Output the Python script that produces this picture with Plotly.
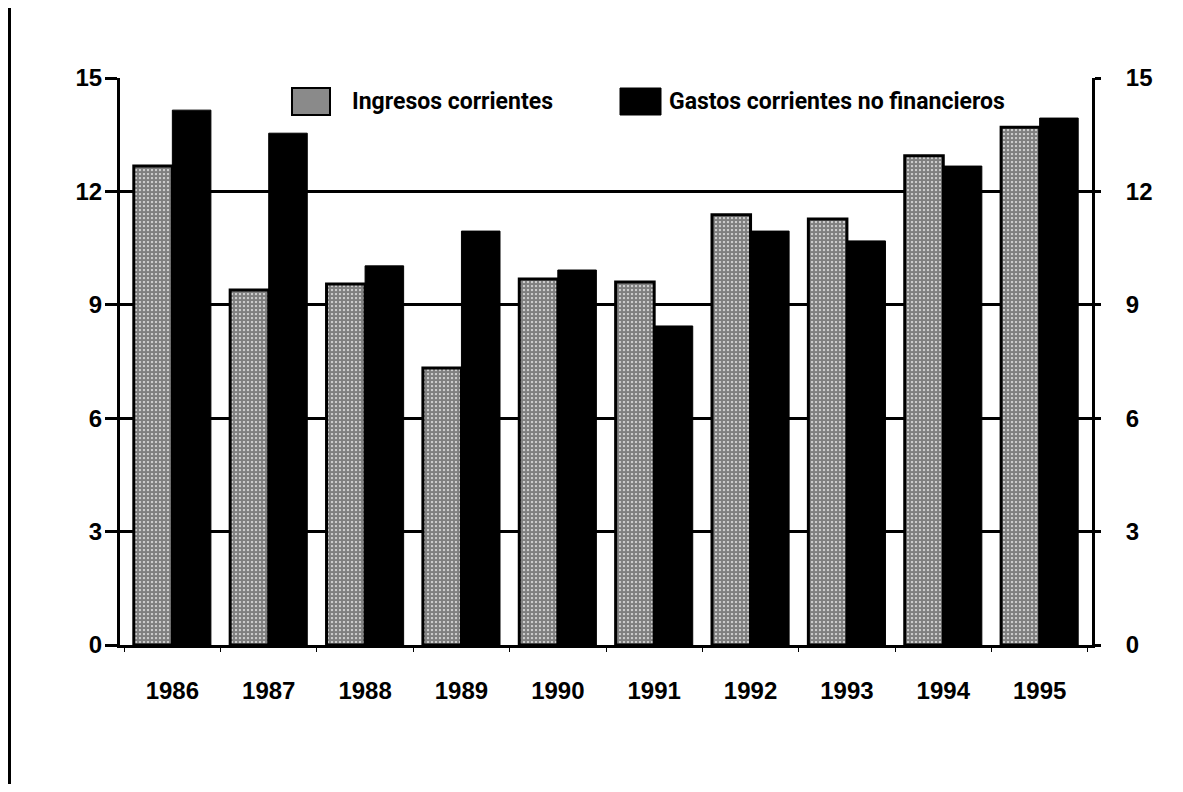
import plotly.graph_objects as go

years = ["1986", "1987", "1988", "1989", "1990", "1991", "1992", "1993", "1994", "1995"]
ingresos = [12.67, 9.39, 9.55, 7.33, 9.68, 9.6, 11.38, 11.27, 12.94, 13.7]
gastos = [14.15, 13.54, 10.03, 10.95, 9.92, 8.44, 10.95, 10.69, 12.67, 13.94]
y_ticks = [0, 3, 6, 9, 12, 15]
legend_labels = ["Ingresos corrientes", "Gastos corrientes no financieros"]

OFF = 8  # page body margin of the browser
W, H = 1183 - 2 * OFF, 792 - 2 * OFF
ML, MT = 120 - OFF, 78 - OFF
PW, PH = 972, 567
MR, MB = W - ML - PW, H - MT - PH

def px(x):
    return (x - OFF - ML) / PW

def py(y):
    return (MT + PH - (y - OFF)) / PH

tick_font = dict(family="Liberation Sans, Arial, sans-serif", size=24, color="black", weight="bold")
leg_font = dict(family="Liberation Sans Narrow, Arial Narrow, Roboto, sans-serif",
                size=23, color="black", weight="bold")

fig = go.Figure()
fig.add_trace(go.Bar(
    x=years, y=ingresos, name=legend_labels[0],
    marker=dict(color="white", line=dict(color="black", width=3),
                pattern=dict(shape=".", fgcolor="black", bgcolor="white", size=4, solidity=0.8)),
    showlegend=False,
))
fig.add_trace(go.Bar(
    x=years, y=gastos, name=legend_labels[1],
    marker=dict(color="black", line=dict(color="black", width=1)),
    showlegend=False,
))
# invisible companion so the right-hand axis is drawn
fig.add_trace(go.Scatter(
    x=years, y=gastos, yaxis="y2", mode="markers",
    marker=dict(opacity=0), hoverinfo="skip", showlegend=False,
))

fig.update_layout(
    width=W, height=H,
    margin=dict(l=ML, r=MR, t=MT, b=MB),
    paper_bgcolor="white", plot_bgcolor="white",
    barmode="group", bargap=0.2, bargroupgap=0,
    xaxis=dict(type="category", showline=True, linecolor="black", linewidth=3,
               ticks="outside", ticklen=4, tickwidth=1, tickcolor="black", tickson="boundaries",
               tickfont=tick_font, ticklabelstandoff=22, showgrid=False),
    yaxis=dict(range=[0, 15], tickvals=y_ticks, showline=True, linecolor="black", linewidth=3,
               ticks="outside", ticklen=12, tickwidth=3, tickcolor="black",
               showgrid=True, gridcolor="black", gridwidth=3, zeroline=False,
               tickfont=tick_font, ticklabelstandoff=-2),
    yaxis2=dict(range=[0, 15], tickvals=y_ticks, overlaying="y", side="right",
                showline=True, linecolor="black", linewidth=3,
                ticks="outside", ticklen=6, tickwidth=3, tickcolor="black",
                showgrid=False, zeroline=False, tickfont=tick_font, ticklabelstandoff=20),
)

# left page border
fig.add_shape(type="line", xref="paper", yref="paper",
              x0=px(9), x1=px(9), y0=py(H + 2 * OFF), y1=py(0),
              line=dict(color="black", width=4))

# legend swatches
fig.add_shape(type="rect", xref="paper", yref="paper",
              x0=px(292), x1=px(330), y0=py(115), y1=py(88),
              fillcolor="#8a8a8a", line=dict(color="black", width=2))
fig.add_shape(type="rect", xref="paper", yref="paper",
              x0=px(620), x1=px(661), y0=py(115), y1=py(88),
              fillcolor="black", line=dict(color="black", width=1))
fig.add_annotation(xref="paper", yref="paper", x=px(350), y=py(101), text=legend_labels[0],
                   showarrow=False, xanchor="left", yanchor="middle", font=leg_font)
fig.add_annotation(xref="paper", yref="paper", x=px(667), y=py(101), text=legend_labels[1],
                   showarrow=False, xanchor="left", yanchor="middle", font=leg_font)

fig.write_html("out.html")
